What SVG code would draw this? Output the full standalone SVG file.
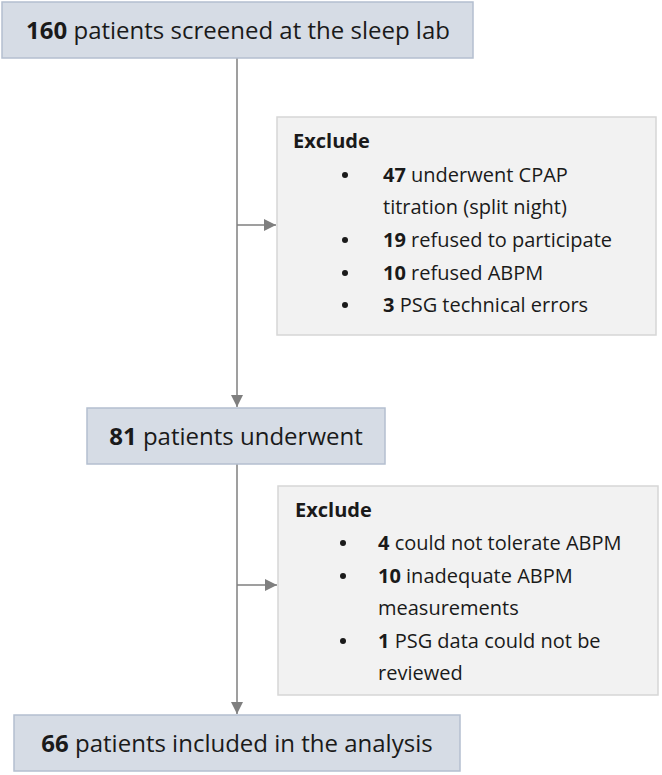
<svg xmlns="http://www.w3.org/2000/svg" width="662" height="775" viewBox="0 0 662 775">
<style>
.main{fill:#d6dce5;stroke:#b4bfcf;stroke-width:1.5}
.excl{fill:#f2f2f2;stroke:#d6d6d6;stroke-width:1.5}
.mt{font-family:"Open Sans","Liberation Sans",Arial,sans-serif;font-size:24px;fill:#1a1a1a}
.et{font-family:"Open Sans","Liberation Sans",Arial,sans-serif;font-size:20px;fill:#1a1a1a}
.b{font-weight:bold}
.con{stroke:#7f7f7f;stroke-width:1.5;fill:none}
.dot{fill:#1a1a1a}
</style>
<defs>
<marker id="ah" viewBox="0 0 12 12" refX="12" refY="6" markerWidth="12" markerHeight="12" markerUnits="userSpaceOnUse" orient="auto">
<path d="M0,0 L12,6 L0,12 z" fill="#7f7f7f"/>
</marker>
</defs>
<g id="connectors">
<line class="con" x1="237" y1="58" x2="237" y2="407" marker-end="url(#ah)"/>
<line class="con" x1="237" y1="225" x2="276" y2="225" marker-end="url(#ah)"/>
<line class="con" x1="237" y1="464" x2="237" y2="714" marker-end="url(#ah)"/>
<line class="con" x1="237" y1="585" x2="277" y2="585" marker-end="url(#ah)"/>
</g>
<g id="screened">
<rect class="main" x="2" y="2" width="471" height="56"/>
<text class="mt" x="238" y="39" text-anchor="middle"><tspan class="b">160</tspan> patients screened at the sleep lab</text>
</g>
<g id="exclude1">
<rect class="excl" x="277" y="117" width="379" height="218"/>
<text class="et b" x="293" y="148">Exclude</text>
<circle class="dot" cx="345" cy="175" r="3"/>
<circle class="dot" cx="345" cy="240" r="3"/>
<circle class="dot" cx="345" cy="273" r="3"/>
<circle class="dot" cx="345" cy="305" r="3"/>
<text class="et" x="383" y="182"><tspan class="b">47</tspan> underwent CPAP</text>
<text class="et" x="383" y="214">titration (split night)</text>
<text class="et" x="383" y="247"><tspan class="b">19</tspan> refused to participate</text>
<text class="et" x="383" y="280"><tspan class="b">10</tspan> refused ABPM</text>
<text class="et" x="383" y="312"><tspan class="b">3</tspan> PSG technical errors</text>
</g>
<g id="underwent">
<rect class="main" x="87" y="408" width="298" height="56"/>
<text class="mt" x="236" y="445" text-anchor="middle"><tspan class="b">81</tspan> patients underwent</text>
</g>
<g id="exclude2">
<rect class="excl" x="278" y="486" width="380" height="209"/>
<text class="et b" x="295" y="517">Exclude</text>
<circle class="dot" cx="343" cy="543" r="3"/>
<circle class="dot" cx="343" cy="576" r="3"/>
<circle class="dot" cx="343" cy="641" r="3"/>
<text class="et" x="378" y="550"><tspan class="b">4</tspan> could not tolerate ABPM</text>
<text class="et" x="378" y="583"><tspan class="b">10</tspan> inadequate ABPM</text>
<text class="et" x="378" y="615">measurements</text>
<text class="et" x="378" y="648"><tspan class="b">1</tspan> PSG data could not be</text>
<text class="et" x="378" y="680">reviewed</text>
</g>
<g id="included">
<rect class="main" x="14" y="715" width="446" height="56"/>
<text class="mt" x="237" y="752" text-anchor="middle"><tspan class="b">66</tspan> patients included in the analysis</text>
</g>
</svg>
